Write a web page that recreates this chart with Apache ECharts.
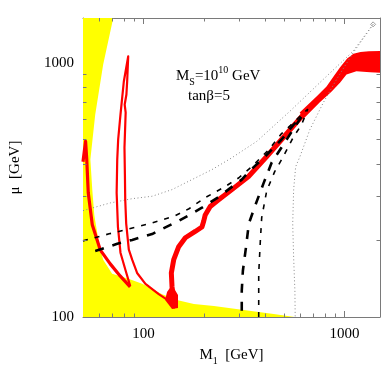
<!DOCTYPE html>
<html>
<head>
<meta charset="utf-8">
<script src="https://cdn.jsdelivr.net/npm/echarts@6/dist/echarts.min.js"></script>
<style>
html, body { margin: 0; padding: 0; background: #fff; }
#chart { width: 384px; height: 382px; }
</style>
</head>
<body>
<div id="chart"></div>
<script>
// axes: M1 and mu, both log
const xRange = [50, 1500]
const yRange = [100, 1500]
const xLabelValues = [100, 1000]
const yLabelValues = [100, 1000]
const xMinorTicks = [60, 70, 80, 90, 200, 300, 400, 500, 600, 700, 800, 900]
const yMinorTicks = [200, 300, 400, 500, 600, 700, 800, 900]

// excluded region (yellow), boundary
const yellowRegion = [[50, 1500], [70.7, 1500], [63.0, 985], [57.5, 625], [54.4, 416], [55.6, 317], [56.9, 252],
  [60.2, 192], [63.0, 168], [69.8, 148], [84.8, 141], [98.4, 135], [123.7, 123], [150, 116], [178, 112.5],
  [224, 110.5], [315, 106.6], [444, 102.8], [564, 100], [50, 100]]

// red relic-density contours
const leftRedCurve = [[50, 408], [51.5, 491], [52.2, 416], [53.1, 308], [55.6, 230.5], [60.9, 183.7],
  [68.3, 161.8], [76.5, 145.1], [85.8, 131.3]]
const tallLoop = [[85.8, 132.5], [81.3, 153], [76.8, 179], [74.6, 226], [73.5, 308], [74.0, 416], [74.8, 499],
  [76.8, 625], [79.8, 844], [83.9, 1059], [82.9, 844], [82.2, 750], [80.6, 685], [81.5, 637], [80.4, 464],
  [80.8, 363], [81.1, 289], [82.0, 233], [84.5, 184], [87.8, 168], [92.9, 149], [102.2, 135], [119, 123],
  [130.9, 117], [143.4, 108.5]]
const mainBand = [[143.4, 108.5], [141.3, 113.5], [138.6, 131.6], [137.5, 149], [141.3, 168], [149.6, 189],
  [161.4, 205], [180.8, 217], [195.2, 226], [199, 237.5], [202.7, 252], [214.6, 272], [236.2, 289], [275, 317],
  [332.7, 357], [410, 428], [486, 499], [623, 625], [725, 704]]
const bandFlare = [[598, 637], [725, 736], [813, 807], [881, 883], [950, 960], [1030, 1040], [1107, 1085],
  [1200, 1102], [1320, 1110], [1500, 1112], [1500, 913], [1340, 918], [1145, 926], [1022, 899], [951, 836],
  [860, 770], [751, 697], [626, 603]]
const bandFoot = [[138.6, 133.7], [148.4, 122.1], [148.4, 108.5], [138.6, 107.5], [128, 116.7], [130.9, 125.5]]

// black dashed contours
const longDashed = [[57.5, 182], [62.3, 185.4], [74, 194], [87.8, 201], [110.3, 212], [123.7, 222], [150.1, 239],
  [195.2, 269], [237, 297], [275, 325], [308, 347], [334, 373], [401, 427], [486, 499], [558, 571], [611, 614],
  [515, 499], [434, 405], [396, 337], [362, 279], [334, 233], [323, 187], [312, 152], [308, 127], [308, 100]]
const shortDashed = [[50, 199.3], [67.5, 212.4], [106.6, 232.6], [143.4, 250], [168.3, 266.5], [202, 294.4],
  [254, 325.4], [298, 353], [345, 390], [419.5, 455], [486, 526.5], [558, 582], [626, 637], [655, 655],
  [611, 571], [558, 512], [486, 416], [449, 373], [410, 314], [387, 246], [381, 199], [374, 148], [374, 100]]

// gray dotted contours
const upperDotted = [[50, 262], [68.3, 281], [87.8, 292], [110.3, 298.5], [138.6, 317], [174, 347], [219, 380],
  [275, 423], [366, 491], [535, 645], [783, 860], [1103, 1111], [1386, 1416]]
const lowerDotted = [[1386, 1416], [1333, 1353], [1103, 1095], [912, 860], [783, 696], [672, 546], [600, 428],
  [571, 390], [558, 317], [552, 233], [558, 171], [566, 127], [568, 100]]

const serif = '"Liberation Serif", "DejaVu Serif", serif'
const frameColor = '#7a7a7a'

function pickLabel(values) {
  return (v) => values.some(t => Math.abs(v - t) / t < 1e-6) ? String(Math.round(v)) : ''
}

function makeAxis(range, position, labels) {
  return {
    type: 'log',
    logBase: 10,
    min: range[0],
    max: range[1],
    position: position,
    axisLine: { onZero: false, lineStyle: { color: frameColor, width: 1 } },
    axisTick: { inside: true, length: 6, lineStyle: { color: frameColor } },
    minorTick: { show: false },
    axisLabel: labels
      ? { show: true, margin: 10, color: '#000', fontFamily: serif, fontSize: 15, formatter: pickLabel(labels) }
      : { show: false },
    splitLine: { show: false },
    minorSplitLine: { show: false },
  }
}

function polygon(points, color) {
  return {
    type: 'custom',
    data: points,
    clip: true,
    silent: true,
    renderItem: (params, api) => {
      if (params.dataIndex !== 0) return null
      return {
        type: 'polygon',
        shape: { points: points.map(p => api.coord(p)) },
        style: { fill: color, stroke: null },
      }
    },
  }
}

function curve(points, color, width, dash) {
  return {
    type: 'line',
    data: points,
    showSymbol: false,
    symbol: 'none',
    silent: true,
    lineStyle: { color: color, width: width, type: dash || 'solid', cap: 'butt', join: 'round' },
  }
}

// minor log ticks on all four sides, placed by the axes' own scale
const minorTickSeries = {
  type: 'custom',
  data: [[xRange[0], yRange[0]]],
  silent: true,
  z: 5,
  renderItem: (params, api) => {
    const len = 3.5
    const style = { stroke: frameColor, lineWidth: 1 }
    const kids = []
    xMinorTicks.forEach(v => {
      const b = api.coord([v, yRange[0]])
      const t = api.coord([v, yRange[1]])
      const x = Math.round(b[0]) + 0.5
      kids.push({ type: 'line', shape: { x1: x, y1: b[1], x2: x, y2: b[1] - len }, style })
      kids.push({ type: 'line', shape: { x1: x, y1: t[1], x2: x, y2: t[1] + len }, style })
    })
    yMinorTicks.forEach(v => {
      const l = api.coord([xRange[0], v])
      const r = api.coord([xRange[1], v])
      const y = Math.round(l[1]) + 0.5
      kids.push({ type: 'line', shape: { x1: l[0], y1: y, x2: l[0] + len, y2: y }, style })
      kids.push({ type: 'line', shape: { x1: r[0], y1: y, x2: r[0] - len, y2: y }, style })
    })
    return { type: 'group', children: kids }
  },
}

const xBottom = makeAxis(xRange, 'bottom', xLabelValues)
Object.assign(xBottom, {
  name: '{m|M}{s|1}{m|  [GeV]}',
  nameLocation: 'middle',
  nameGap: 27,
  nameTextStyle: {
    rich: {
      m: { fontFamily: serif, fontSize: 15, color: '#000', lineHeight: 22, verticalAlign: 'middle' },
      s: { fontFamily: serif, fontSize: 10, color: '#000', lineHeight: 14, verticalAlign: 'bottom' },
    },
  },
})
const yLeft = makeAxis(yRange, 'left', yLabelValues)
Object.assign(yLeft, {
  name: 'μ  [GeV]',
  nameLocation: 'middle',
  nameGap: 60,
  nameTextStyle: { fontFamily: serif, fontSize: 15, color: '#000' },
})
yLeft.axisLabel.margin = 9

const chart = echarts.init(document.getElementById('chart'))
chart.setOption({
  animation: false,
  grid: { left: 81, right: 4, top: 18, bottom: 65 },
  xAxis: [xBottom, makeAxis(xRange, 'top', null)],
  yAxis: [yLeft, makeAxis(yRange, 'right', null)],
  graphic: [
    {
      type: 'text',
      left: 176,
      top: 65,
      style: {
        text: '{m|M}{s|S}{m|=10}{p|10}{m| GeV}',
        rich: {
          m: { fontFamily: serif, fontSize: 15, fill: '#000', lineHeight: 22, verticalAlign: 'middle' },
          s: { fontFamily: serif, fontSize: 10, fill: '#000', lineHeight: 14, verticalAlign: 'bottom' },
          p: { fontFamily: serif, fontSize: 10, fill: '#000', lineHeight: 14, verticalAlign: 'top' },
        },
      },
    },
    {
      type: 'text',
      left: 188,
      top: 89,
      style: { text: 'tanβ=5', fontFamily: serif, fontSize: 15, fill: '#000' },
    },
  ],
  series: [
    polygon(yellowRegion, '#ffff00'),
    curve(upperDotted, '#888', 1, [1, 2.5]),
    curve(lowerDotted, '#888', 1, [1, 2.5]),
    {
      type: 'scatter',
      data: [upperDotted[upperDotted.length - 1]],
      symbol: 'diamond',
      symbolSize: 5,
      silent: true,
      itemStyle: { color: '#fff', borderColor: '#888', borderWidth: 1 },
    },
    curve(leftRedCurve, '#ff0000', 3.2),
    curve(tallLoop, '#ff0000', 2.2),
    curve(mainBand, '#ff0000', 5),
    polygon(bandFlare, '#ff0000'),
    polygon(bandFoot, '#ff0000'),
    curve(shortDashed, '#000', 1.6, [5, 7]),
    curve(longDashed, '#000', 2.6, [9, 9]),
    minorTickSeries,
  ],
})
</script>
</body>
</html>
